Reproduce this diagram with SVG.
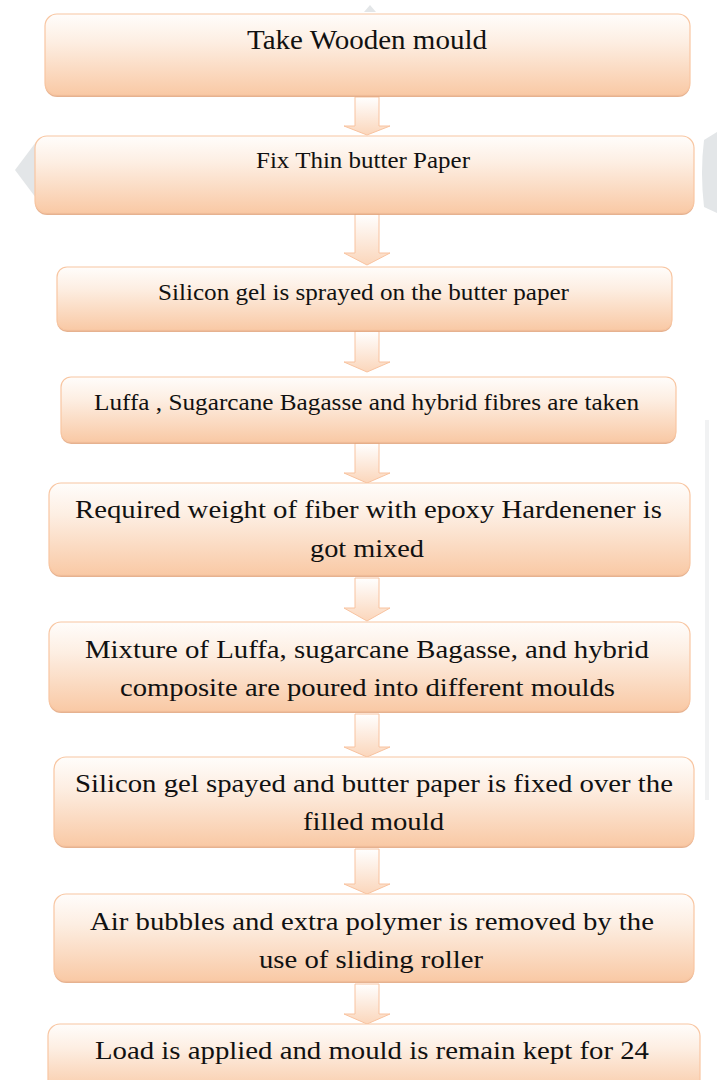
<svg xmlns="http://www.w3.org/2000/svg" width="717" height="1080" viewBox="0 0 717 1080">
<defs>
<linearGradient id="boxFill" x1="0" y1="0" x2="0" y2="1">
<stop offset="0" stop-color="#fffdfb"/>
<stop offset="0.35" stop-color="#fdeee2"/>
<stop offset="1" stop-color="#f9c9a5"/>
</linearGradient>
<linearGradient id="arrowFill" x1="0" y1="0" x2="0" y2="1">
<stop offset="0" stop-color="#ffffff"/>
<stop offset="1" stop-color="#fbd6bb"/>
</linearGradient>
<style>
.box{fill:url(#boxFill);stroke:#f8c6a2;stroke-width:1.2}
.shadow{fill:#e2a47c;opacity:0.85}
.arrow{fill:url(#arrowFill);stroke:#f8c3a0;stroke-width:1}
.t{font-family:"Liberation Serif","Times New Roman",serif;fill:#111;text-anchor:start}
.s28{font-size:28px}
.s24{font-size:24px}
.s23{font-size:23px}
.s25{font-size:25px}
.ghost{fill:#e3e6e8}
</style>
</defs>
<rect width="717" height="1080" fill="#ffffff"/>
<g id="background">
<polygon class="ghost" points="364,12 370,5 376,12"/>
<polygon class="ghost" points="36,142 15,170 36,198"/>
<path class="ghost" d="M717,132 L704,140 Q700,172 704,207 L717,213 Z"/>
<rect x="705" y="420" width="4" height="380" fill="#f1f2f3"/>
</g>
<g id="connectors">
<path class="arrow" d="M355,97 H379 V126 H390 L367,135 L344,126 H355 Z"/>
<path class="arrow" d="M355,214 H379 V253 H390 L367,265 L344,253 H355 Z"/>
<path class="arrow" d="M355,331 H379 V362 H390 L367,372 L344,362 H355 Z"/>
<path class="arrow" d="M355,443 H379 V473 H390 L367,483 L344,473 H355 Z"/>
<path class="arrow" d="M355,578 H379 V608 H390 L367,621 L344,608 H355 Z"/>
<path class="arrow" d="M355,714 H379 V747 H390 L367,757 L344,747 H355 Z"/>
<path class="arrow" d="M355,849 H379 V884 H390 L367,894 L344,884 H355 Z"/>
<path class="arrow" d="M355,984 H379 V1014 H390 L367,1024 L344,1014 H355 Z"/>
</g>
<g id="n1">
<rect class="shadow" x="45" y="16" width="645" height="81" rx="12"/>
<rect class="box" x="45" y="14" width="645" height="81" rx="12"/>
<text class="t s28" x="247" y="49" textLength="240" lengthAdjust="spacingAndGlyphs">Take Wooden mould</text>
</g>
<g id="n2">
<rect class="shadow" x="35" y="138" width="659" height="77" rx="12"/>
<rect class="box" x="35" y="136" width="659" height="77" rx="12"/>
<text class="t s24" x="256" y="168" textLength="214" lengthAdjust="spacingAndGlyphs">Fix Thin butter Paper</text>
</g>
<g id="n3">
<rect class="shadow" x="57" y="269" width="615" height="63" rx="10"/>
<rect class="box" x="57" y="267" width="615" height="63" rx="10"/>
<text class="t s24" x="158" y="300" textLength="411" lengthAdjust="spacingAndGlyphs">Silicon gel is sprayed on the butter paper</text>
</g>
<g id="n4">
<rect class="shadow" x="61" y="379" width="615" height="65" rx="10"/>
<rect class="box" x="61" y="377" width="615" height="65" rx="10"/>
<text class="t s23" x="94" y="410" textLength="545" lengthAdjust="spacingAndGlyphs">Luffa , Sugarcane Bagasse and hybrid fibres are taken</text>
</g>
<g id="n5">
<rect class="shadow" x="49" y="485" width="641" height="92" rx="12"/>
<rect class="box" x="49" y="483" width="641" height="92" rx="12"/>
<text class="t s25" x="75" y="518" textLength="587" lengthAdjust="spacingAndGlyphs">Required weight of fiber with epoxy Hardenener is</text>
<text class="t s25" x="310" y="557" textLength="114" lengthAdjust="spacingAndGlyphs">got mixed</text>
</g>
<g id="n6">
<rect class="shadow" x="49" y="624" width="641" height="89" rx="12"/>
<rect class="box" x="49" y="622" width="641" height="89" rx="12"/>
<text class="t s25" x="85" y="658" textLength="564" lengthAdjust="spacingAndGlyphs">Mixture of Luffa, sugarcane Bagasse, and hybrid</text>
<text class="t s25" x="120" y="696" textLength="495" lengthAdjust="spacingAndGlyphs">composite are poured into different moulds</text>
</g>
<g id="n7">
<rect class="shadow" x="54" y="759" width="640" height="89" rx="12"/>
<rect class="box" x="54" y="757" width="640" height="89" rx="12"/>
<text class="t s25" x="75" y="792" textLength="598" lengthAdjust="spacingAndGlyphs">Silicon gel spayed and butter paper is fixed over the</text>
<text class="t s25" x="303" y="830" textLength="141" lengthAdjust="spacingAndGlyphs">filled mould</text>
</g>
<g id="n8">
<rect class="shadow" x="54" y="896" width="640" height="87" rx="12"/>
<rect class="box" x="54" y="894" width="640" height="87" rx="12"/>
<text class="t s25" x="90" y="930" textLength="564" lengthAdjust="spacingAndGlyphs">Air bubbles and extra polymer is removed by the</text>
<text class="t s25" x="259" y="968" textLength="224" lengthAdjust="spacingAndGlyphs">use of sliding roller</text>
</g>
<g id="n9">
<rect class="shadow" x="48" y="1026" width="652" height="70" rx="12"/>
<rect class="box" x="48" y="1024" width="652" height="70" rx="12"/>
<text class="t s25" x="95" y="1059" textLength="554" lengthAdjust="spacingAndGlyphs">Load is applied and mould is remain kept for 24</text>
</g>
</svg>
